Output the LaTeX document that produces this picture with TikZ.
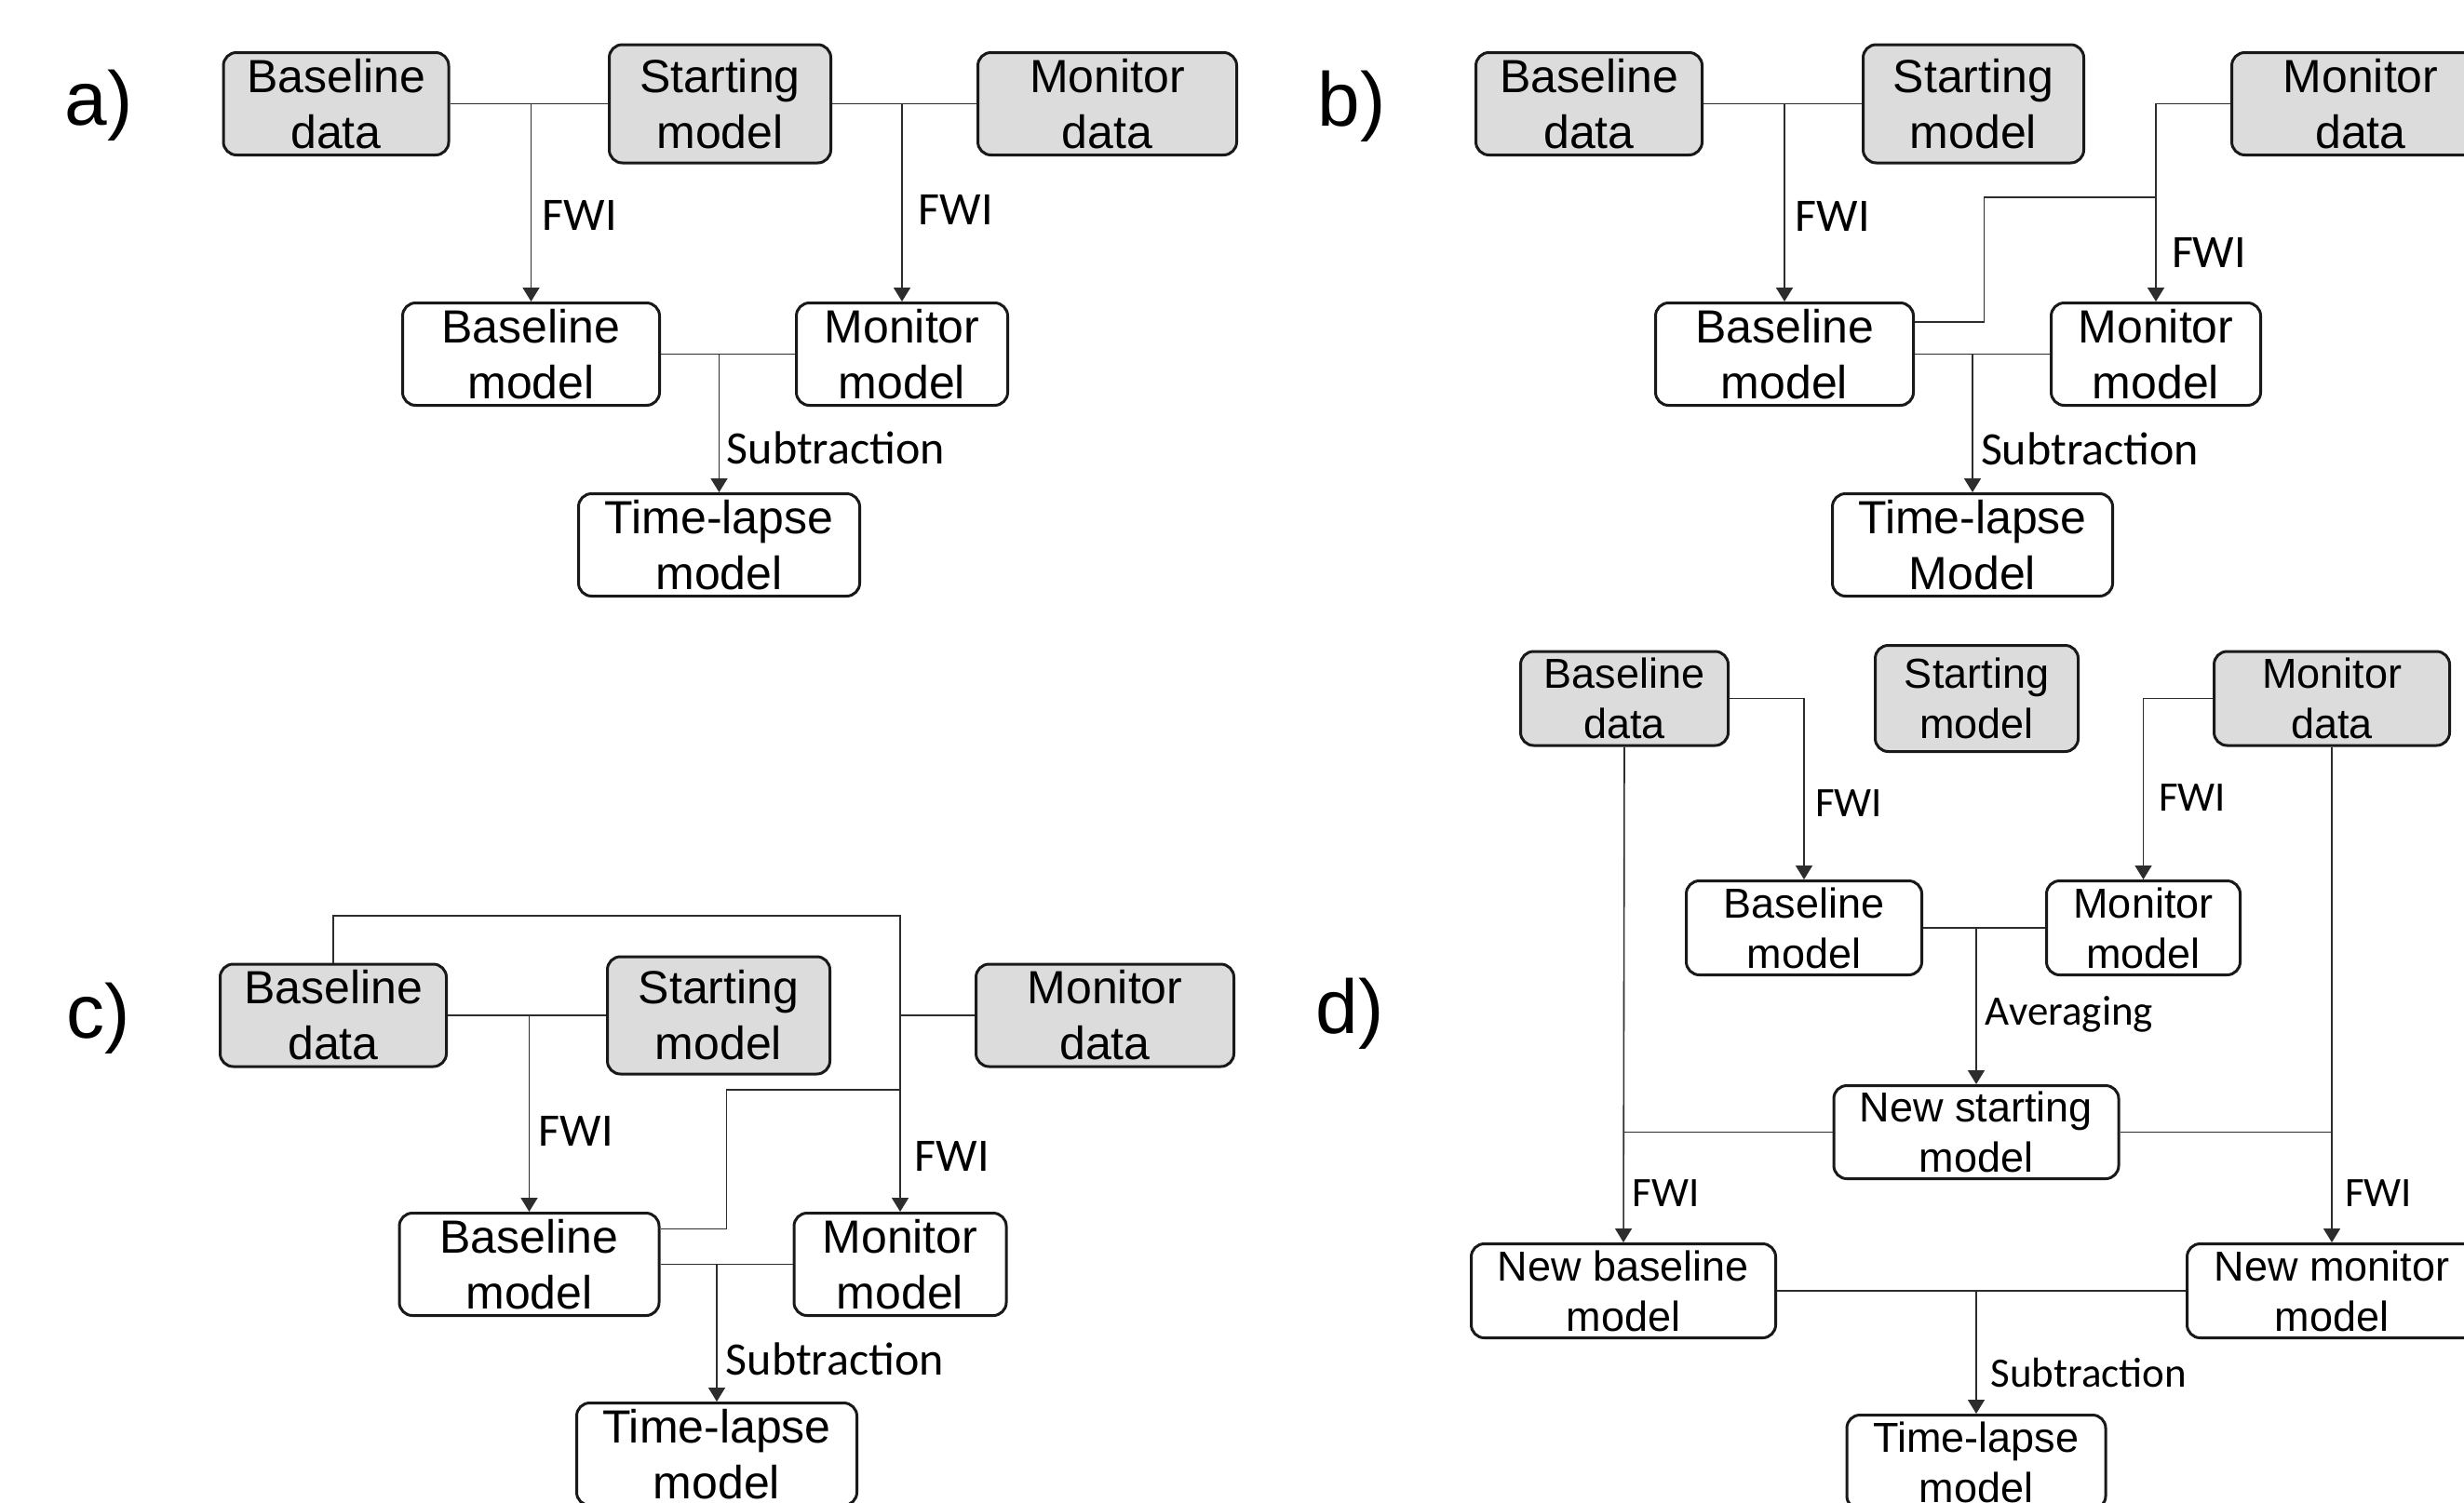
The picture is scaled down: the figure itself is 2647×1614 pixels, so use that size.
\documentclass[tikz,border=0pt]{standalone}
\usepackage{fontspec}
\setmainfont{Liberation Sans}
\newfontfamily\calfont{Carlito}
\usetikzlibrary{arrows.meta}
\definecolor{boxgray}{RGB}{220,220,220}
\definecolor{edgecol}{RGB}{25,25,25}
\definecolor{wirecol}{RGB}{45,45,45}
\newcommand\bigboxfont{\fontsize{50}{60}\selectfont}
\newcommand\smallboxfont{\fontsize{45}{54}\selectfont}
\newcommand\biglabfont{\calfont\fontsize{50}{60}\selectfont}
\newcommand\smalllabfont{\calfont\fontsize{45}{54}\selectfont}
\newcommand\panlabfont{\fontsize{82}{90}\selectfont}
\begin{document}
\begin{tikzpicture}[x=1pt,y=-1pt,
  basebox/.style={draw=edgecol, line width=3pt, rounded corners=14pt, inner sep=0pt, align=center, text=black},
  gbox/.style={basebox, fill=boxgray},
  wbox/.style={basebox, fill=white},
  big/.style={font=\bigboxfont},
  small/.style={font=\smallboxfont},
  wire/.style={draw=wirecol, line width=1.6pt},
  arr/.style={wire, -{Triangle[width=18pt,length=15pt]}},
  lab/.style={inner sep=0pt, font=\biglabfont},
  slab/.style={inner sep=0pt, font=\smalllabfont},
  pan/.style={inner sep=0pt, font=\panlabfont}]
\fill[white] (0,0) rectangle (2647,1614);
\useasboundingbox (0,0) rectangle (2647,1614);

% ---------------- panel a ----------------
\node[pan] (a-lab) at (106,113) {a)};
\node[gbox,big,minimum width=242pt,minimum height=110pt] (a-bd) at (361,111.5) {Baseline\\data};
\node[gbox,big,minimum width=238pt,minimum height=127pt] (a-sm) at (773.5,111.5) {Starting\\model};
\node[gbox,big,minimum width=278pt,minimum height=110pt] (a-md) at (1189.5,111.5) {Monitor\\data};
\node[wbox,big,minimum width=276pt,minimum height=110pt] (a-bm) at (570.5,380.5) {Baseline\\model};
\node[wbox,big,minimum width=227pt,minimum height=110pt] (a-mm) at (969,380.5) {Monitor\\model};
\node[wbox,big,minimum width=302pt,minimum height=110pt] (a-tl) at (772.5,585.5) {Time-lapse\\model};
\draw[wire] (a-bd.east) -- (a-sm.west);
\draw[wire] (a-sm.east) -- (a-md.west);
\draw[wire] (a-bm.east) -- (a-mm.west);
\draw[arr] (a-bm.north |- a-bd.east) -- (a-bm.north);
\draw[arr] (a-mm.north |- a-md.west) -- (a-mm.north);
\draw[arr] (a-tl.north |- a-bm.east) -- (a-tl.north);
\node[lab] (a-f1) at (623,231) {FWI};
\node[lab] (a-f2) at (1027,225) {FWI};
\node[lab] (a-s) at (898,481) {Subtraction};

% ---------------- panel b ----------------
\node[pan] (b-lab) at (1452,114) {b)};
\node[gbox,big,minimum width=243pt,minimum height=110pt] (b-bd) at (1707,111.5) {Baseline\\data};
\node[gbox,big,minimum width=237pt,minimum height=127pt] (b-sm) at (2120,111.5) {Starting\\model};
\node[gbox,big,minimum width=277pt,minimum height=110pt] (b-md) at (2536,111.5) {Monitor\\data};
\node[wbox,big,minimum width=277pt,minimum height=110pt] (b-bm) at (1917,380.5) {Baseline\\model};
\node[wbox,big,minimum width=225pt,minimum height=110pt] (b-mm) at (2316,380.5) {Monitor\\model};
\node[wbox,big,minimum width=301pt,minimum height=110pt] (b-tl) at (2119,585.5) {Time-lapse\\Model};
\draw[wire] (b-bd.east) -- (b-sm.west);
\draw[wire] (b-bm.east) -- (b-mm.west);
\draw[arr] (b-bm.north |- b-bd.east) -- (b-bm.north);
\draw[arr] (b-md.west) -| (b-mm.north);
\coordinate (b-k) at (2131.5,212);
\draw[wire] (b-mm.north |- b-k) -- (b-k) |- (b-bm.east |- 0,346);
\draw[arr] (b-tl.north |- b-bm.east) -- (b-tl.north);
\node[lab] (b-f1) at (1969,232) {FWI};
\node[lab] (b-f2) at (2373,271) {FWI};
\node[lab] (b-s) at (2245,482) {Subtraction};

% ---------------- panel c ----------------
\node[pan] (c-lab) at (106,1094) {c)};
\node[gbox,big,minimum width=243pt,minimum height=110pt] (c-bd) at (358,1091) {Baseline\\data};
\node[gbox,big,minimum width=239pt,minimum height=126pt] (c-sm) at (772,1091) {Starting\\model};
\node[gbox,big,minimum width=277pt,minimum height=110pt] (c-md) at (1187,1091) {Monitor\\data};
\node[wbox,big,minimum width=279pt,minimum height=110pt] (c-bm) at (568.5,1358.5) {Baseline\\model};
\node[wbox,big,minimum width=228pt,minimum height=110pt] (c-mm) at (967,1358.5) {Monitor\\model};
\node[wbox,big,minimum width=301pt,minimum height=110pt] (c-tl) at (770,1562.5) {Time-lapse\\model};
\draw[wire] (c-bd.east) -- (c-sm.west);
\draw[wire] (c-md.west) -- (c-mm.north |- c-md.west);
\draw[wire] (c-bm.east) -- (c-mm.west);
\draw[arr] (c-bm.north |- c-bd.east) -- (c-bm.north);
\coordinate (c-top) at (358,984);
\draw[arr] (c-bd.north) -- (c-top) -| (c-mm.north);
\coordinate (c-k) at (780.5,1171);
\draw[wire] (c-mm.north |- c-k) -- (c-k) |- (c-bm.east |- 0,1320.5);
\draw[arr] (c-tl.north |- c-bm.east) -- (c-tl.north);
\node[lab] (c-f1) at (619,1215) {FWI};
\node[lab] (c-f2) at (1023,1242) {FWI};
\node[lab] (c-s) at (897,1460) {Subtraction};

% ---------------- panel d ----------------
\node[pan] (d-lab) at (1450,1089) {d)};
\node[gbox,small,minimum width=223pt,minimum height=101pt] (d-bd) at (1745,750.5) {Baseline\\data};
\node[gbox,small,minimum width=218pt,minimum height=114pt] (d-sm) at (2123.5,750.5) {Starting\\model};
\node[gbox,small,minimum width=253pt,minimum height=101pt] (d-md) at (2505,750.5) {Monitor\\data};
\node[wbox,small,minimum width=253pt,minimum height=101pt] (d-bm) at (1938,997) {Baseline\\model};
\node[wbox,small,minimum width=208pt,minimum height=101pt] (d-mm) at (2302.5,997) {Monitor\\model};
\node[wbox,small,minimum width=306pt,minimum height=100pt] (d-nsm) at (2123,1216.5) {New starting\\model};
\node[wbox,small,minimum width=327pt,minimum height=101pt] (d-nbm) at (1744,1387) {New baseline\\model};
\node[wbox,small,minimum width=311pt,minimum height=101pt] (d-nmm) at (2505,1387) {New monitor\\model};
\node[wbox,small,minimum width=278pt,minimum height=101pt] (d-tl) at (2123,1571) {Time-lapse\\model};
\draw[arr] (d-bd.east) -| (d-bm.north);
\draw[arr] (d-md.west) -| (d-mm.north);
\draw[wire] (d-bm.east) -- (d-mm.west);
\draw[arr] (d-nsm.north |- d-bm.east) -- (d-nsm.north);
\draw[arr] (d-bd.south) -- (d-nbm.north);
\draw[arr] (d-md.south) -- (d-nmm.north);
\draw[wire] (d-nsm.west) -- (d-bd.south |- d-nsm.west);
\draw[wire] (d-nsm.east) -- (d-md.south |- d-nsm.east);
\draw[wire] (d-nbm.east) -- (d-nmm.west);
\draw[arr] (d-tl.north |- d-nbm.east) -- (d-tl.north);
\node[slab] (d-f1) at (1986,863) {FWI};
\node[slab] (d-f2) at (2355,857) {FWI};
\node[slab] (d-av) at (2223,1090) {Averaging};
\node[slab] (d-f3) at (1790,1282) {FWI};
\node[slab] (d-f4) at (2555,1282) {FWI};
\node[slab] (d-s) at (2244,1475) {Subtraction};
\end{tikzpicture}
\end{document}
